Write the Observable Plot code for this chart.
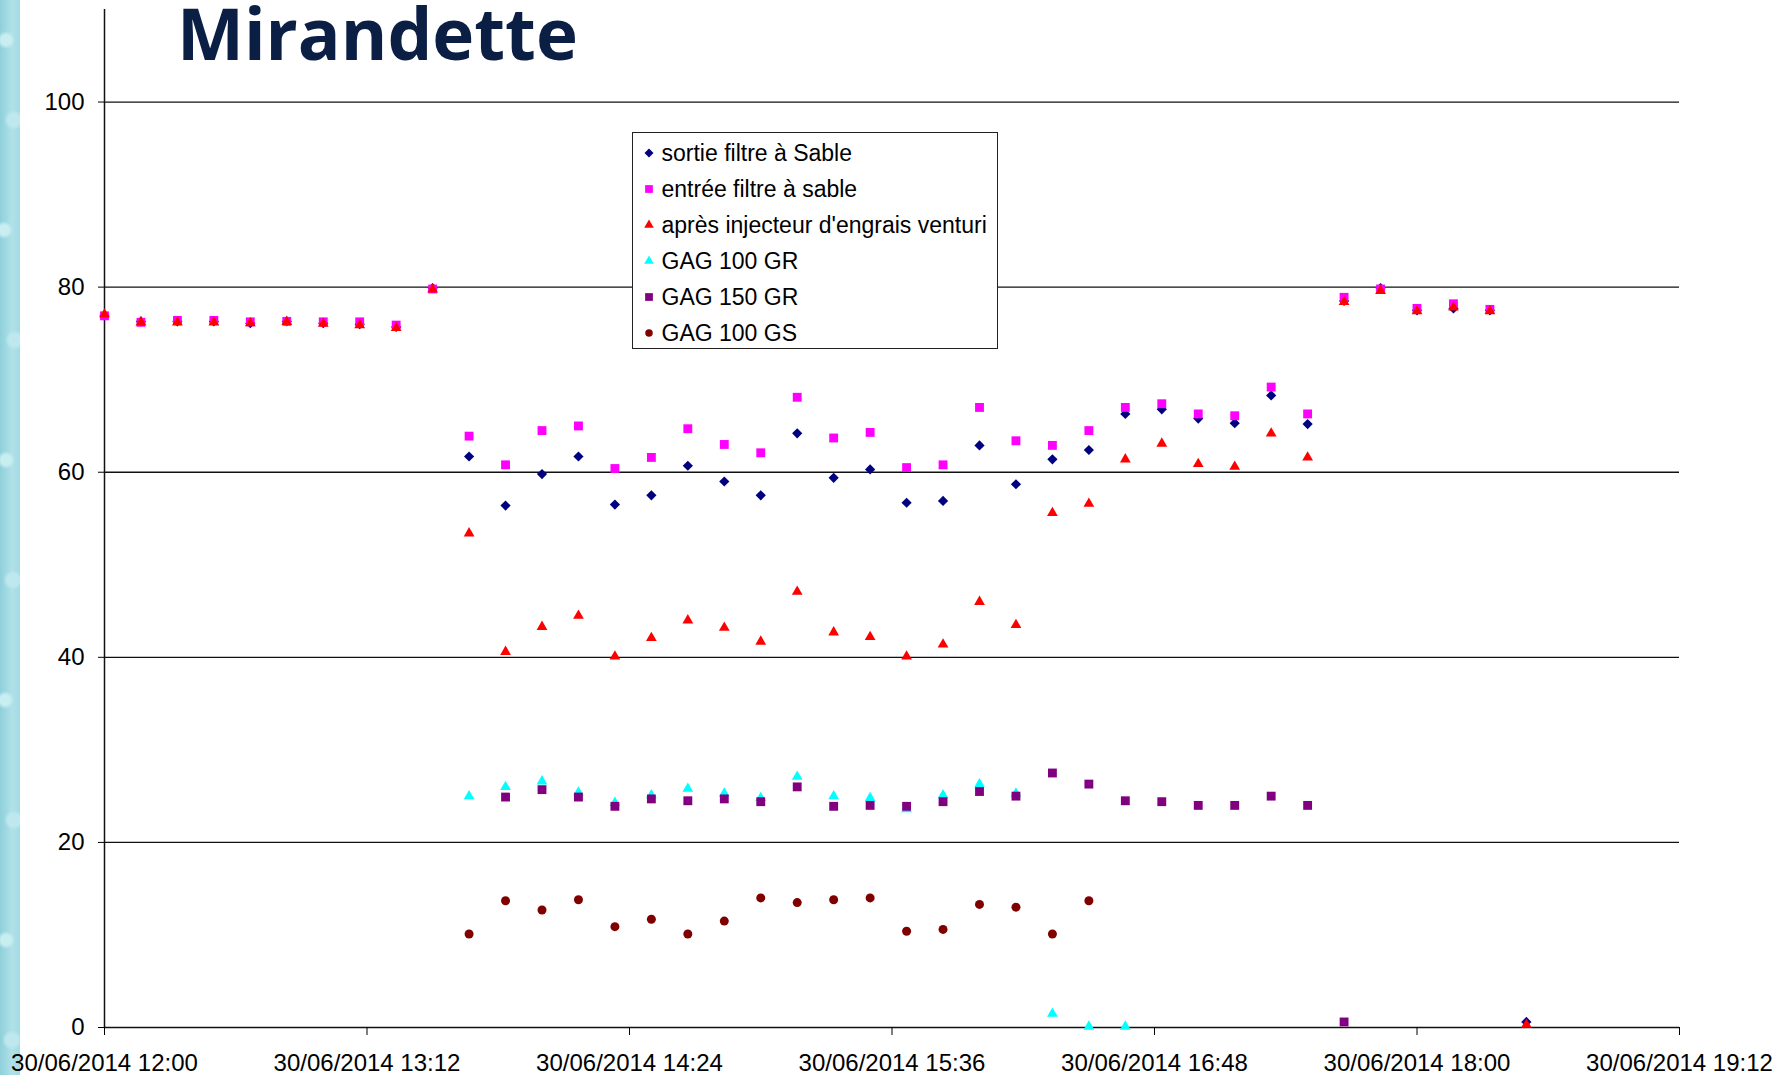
<!DOCTYPE html>
<html>
<head>
<meta charset="utf-8">
<script src="https://cdn.jsdelivr.net/npm/d3@7"></script>
<script src="https://cdn.jsdelivr.net/npm/@observablehq/plot@0.6"></script>
<style>
  html, body { margin: 0; padding: 0; background: #fff; }
  #page { position: relative; width: 1786px; height: 1075px; overflow: hidden; background: #fff; }
  #stripe { position: absolute; left: 0; top: 0; width: 20px; height: 1075px;
    background:
      radial-gradient(circle at 6px 40px, #c9eef2 0 5px, transparent 9px),
      radial-gradient(circle at 14px 120px, #bfe8ee 0 6px, transparent 10px),
      radial-gradient(circle at 4px 230px, #c9eef2 0 5px, transparent 9px),
      radial-gradient(circle at 15px 340px, #bfe8ee 0 6px, transparent 10px),
      radial-gradient(circle at 6px 460px, #c9eef2 0 5px, transparent 9px),
      radial-gradient(circle at 13px 580px, #bfe8ee 0 6px, transparent 10px),
      radial-gradient(circle at 5px 700px, #c9eef2 0 5px, transparent 9px),
      radial-gradient(circle at 14px 820px, #bfe8ee 0 6px, transparent 10px),
      radial-gradient(circle at 6px 940px, #c9eef2 0 5px, transparent 9px),
      radial-gradient(circle at 12px 1040px, #bfe8ee 0 6px, transparent 10px),
      linear-gradient(90deg, #8fd0db, #b0e1e8 60%, #a3dbe4);
  }
  #chart { position: absolute; left: 0; top: 0; }
  #title { position: absolute; left: 0; top: 0; pointer-events: none; }
  #legend { position: absolute; left: 632px; top: 132px; width: 366px; height: 217px;
    box-sizing: border-box; border: 1.5px solid #222; background: #fff;
    font-family: "Liberation Sans", Arial, sans-serif; font-size: 23px; color: #000; padding-top: 2px; }
  .row { display: flex; align-items: center; height: 36px; }
  .row svg { margin-left: 7.5px; margin-right: 5px; flex: none; }
</style>
</head>
<body>
<div id="page">
  <div id="stripe"></div>
  <div id="chart"></div>
  <svg id="title" width="1786" height="120"><text x="177" y="60" font-family="'Open Sans', 'Noto Sans', sans-serif" font-weight="700" font-size="71" fill="#0b1f45">Mirandette</text></svg>
  <div id="legend"></div>
</div>
<script>
// ---- data ----
const times = ["12:00","12:10","12:20","12:30","12:40","12:50","13:00","13:10","13:20","13:30",
               "13:40","13:50","14:00","14:10","14:20","14:30","14:40","14:50","15:00","15:10",
               "15:20","15:30","15:40","15:50","16:00","16:10","16:20","16:30","16:40","16:50",
               "17:00","17:10","17:20","17:30","17:40","17:50","18:00","18:10","18:20","18:30"];

const seriesNames = ["sortie filtre à Sable", "entrée filtre à sable", "après injecteur d'engrais venturi",
                     "GAG 100 GR", "GAG 150 GR", "GAG 100 GS"];

const sortie = [76.9, 76.3, 76.3, 76.3, 76.1, 76.3, 76.1, 76.0, 75.7, 79.9,
                61.7, 56.4, 59.8, 61.7, 56.5, 57.5, 60.7, 59.0, 57.5, 64.2,
                59.4, 60.3, 56.7, 56.9, 62.9, 58.7, 61.4, 62.4, 66.3, 66.8,
                65.8, 65.3, 68.3, 65.2, 78.5, 79.9, 77.5, 77.7, 77.5, 0.6];
const entree = [76.9, 76.2, 76.4, 76.4, 76.25, 76.3, 76.25, 76.25, 75.9, 79.8,
                63.9, 60.8, 64.5, 65.0, 60.4, 61.6, 64.7, 63.0, 62.1, 68.1,
                63.7, 64.3, 60.5, 60.8, 67.0, 63.4, 62.9, 64.5, 67.0, 67.4,
                66.3, 66.1, 69.2, 66.3, 78.9, 79.8, 77.7, 78.2, 77.6, null];
const apres  = [77.05, 76.2, 76.2, 76.2, 76.1, 76.25, 76.05, 75.9, 75.6, 79.75,
                53.4, 40.6, 43.3, 44.5, 40.1, 42.1, 44.0, 43.2, 41.7, 47.1,
                42.7, 42.2, 40.1, 41.4, 46.0, 43.5, 55.6, 56.6, 61.4, 63.1,
                60.9, 60.6, 64.2, 61.6, 78.4, 79.6, 77.4, 77.8, 77.4, 0.3];
const gr100  = [null, null, null, null, null, null, null, null, null, null,
                25.0, 26.0, 26.6, 25.4, 24.3, 25.1, 25.8, 25.3, 24.8, 27.1,
                25.0, 24.8, 23.6, 25.1, 26.3, 25.3, 1.5, 0.1, 0.1, null,
                null, null, null, null, null, null, null, null, null, null];
const gr150  = [null, null, null, null, null, null, null, null, null, null,
                null, 24.9, 25.7, 24.9, 23.9, 24.7, 24.5, 24.7, 24.4, 26.0,
                23.9, 24.0, 23.9, 24.4, 25.5, 25.0, 27.5, 26.3, 24.5, 24.4,
                24.0, 24.0, 25.0, 24.0, 0.6, null, null, null, null, null];
const gs100  = [null, null, null, null, null, null, null, null, null, null,
                10.1, 13.7, 12.7, 13.8, 10.9, 11.7, 10.1, 11.5, 14.0, 13.5,
                13.8, 14.0, 10.4, 10.6, 13.3, 13.0, 10.1, 13.7, null, null,
                null, null, null, null, null, null, null, null, null, null];

const xTickLabels = ["2014-06-30T12:00", "2014-06-30T13:12", "2014-06-30T14:24", "2014-06-30T15:36",
                     "2014-06-30T16:48", "2014-06-30T18:00", "2014-06-30T19:12"];
const yTicks = [0, 20, 40, 60, 80, 100];

// ---- styles per series ----
const styles = [
  {symbol: "diamond2", d3sym: d3.symbolDiamond2, fill: "#000080", r: 4.6, lsize: 52},
  {symbol: "square",   d3sym: d3.symbolSquare,   fill: "#FF00FF", r: 5.0, lsize: 60},
  {symbol: "triangle", d3sym: d3.symbolTriangle, fill: "#FF0000", r: 4.0, lsize: 40},
  {symbol: "triangle", d3sym: d3.symbolTriangle, fill: "#00FFFF", r: 4.0, lsize: 40},
  {symbol: "square",   d3sym: d3.symbolSquare,   fill: "#800080", r: 5.0, lsize: 60},
  {symbol: "circle",   d3sym: d3.symbolCircle,   fill: "#800000", r: 4.5, lsize: 44}
];
const allSeries = [sortie, entree, apres, gr100, gr150, gs100];

const parseT = t => new Date(`2014-06-30T${t}:00Z`);
const tables = allSeries.map((vals, si) =>
  vals.map((v, i) => ({time: parseT(times[i]), value: v, series: seriesNames[si]}))
      .filter(d => d.value != null));

const xTicks = xTickLabels.map(s => new Date(s + ":00Z"));
const fmt = d3.utcFormat("%d/%m/%Y %H:%M");

const chart = Plot.plot({
  width: 1786,
  height: 1075,
  marginLeft: 104,
  marginRight: 107,
  marginTop: 9,
  marginBottom: 48,
  style: {fontFamily: "'Liberation Sans', Arial, sans-serif", fontSize: "24px", color: "#000", background: "transparent", overflow: "visible"},
  x: {type: "utc", domain: [xTicks[0], xTicks[xTicks.length - 1]]},
  y: {domain: [0, 110]},
  marks: [
    Plot.ruleY(yTicks.filter(d => d > 0), {stroke: "#111", strokeWidth: 1.3}),
    Plot.ruleY([0], {stroke: "#111", strokeWidth: 1.5}),
    Plot.ruleX([xTicks[0]], {stroke: "#111", strokeWidth: 1.5}),
    Plot.axisY({ticks: yTicks, tickSize: 6, tickPadding: 14, fontSize: 24, label: null, tickFormat: d => String(d)}),
    Plot.axisX({ticks: xTicks, tickSize: 8, tickPadding: 18, fontSize: 24, label: null, tickFormat: fmt}),
    ...tables.map((tab, si) => Plot.dot(tab, {
      x: "time", y: "value", symbol: () => styles[si].symbol, fill: styles[si].fill,
      r: styles[si].r, stroke: "none"
    }))
  ]
});
document.getElementById("chart").appendChild(chart);

// ---- legend ----
const legend = document.getElementById("legend");
seriesNames.forEach((name, si) => {
  const row = document.createElement("div");
  row.className = "row";
  const s = d3.create("svg").attr("width", 16).attr("height", 16);
  s.append("path")
    .attr("transform", "translate(8,8)")
    .attr("d", d3.symbol(styles[si].d3sym, styles[si].lsize)())
    .attr("fill", styles[si].fill);
  row.appendChild(s.node());
  const span = document.createElement("span");
  span.textContent = name;
  row.appendChild(span);
  legend.appendChild(row);
});
</script>
</body>
</html>
